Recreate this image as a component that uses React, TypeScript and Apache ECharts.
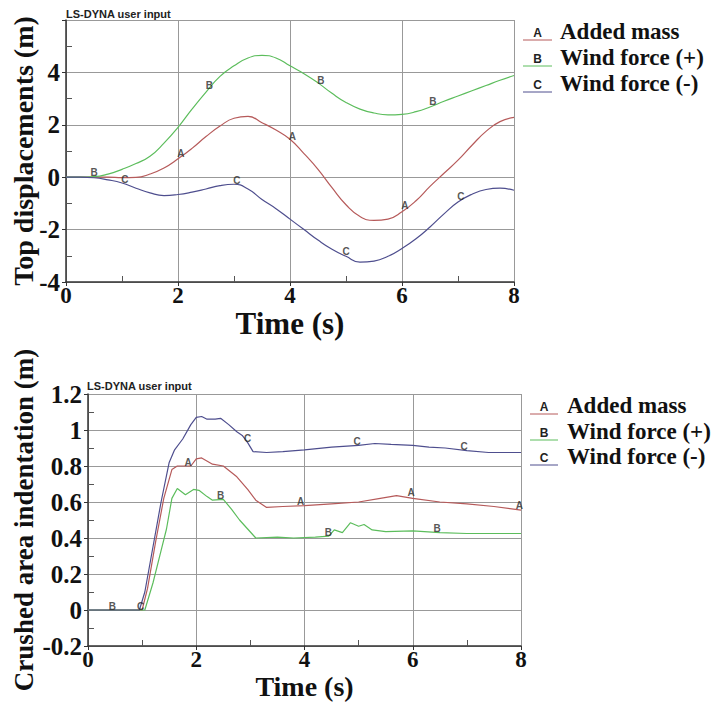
import React, { useEffect, useRef } from "react";
import * as echarts from "echarts";

// ---------- data ----------
const seriesNames = ["Added mass", "Wind force (+)", "Wind force (-)"];
const seriesLetters = ["A", "B", "C"];
const seriesColors = ["#b65a5a", "#5cbd5c", "#4e4e8e"];

const topTime = [0, 0.25, 0.5, 0.75, 1, 1.25, 1.5, 1.75, 2, 2.25, 2.5, 2.75, 3, 3.25, 3.5, 3.75, 4, 4.25, 4.5, 4.75, 5, 5.25, 5.5, 5.75, 6, 6.25, 6.5, 6.75, 7, 7.25, 7.5, 7.75, 8];
const topAddedMass = [0, 0, 0, 0, -0.02, -0.01, 0.12, 0.35, 0.7, 1.1, 1.55, 1.95, 2.25, 2.32, 2.08, 1.8, 1.45, 0.9, 0.3, -0.4, -1.05, -1.5, -1.65, -1.6, -1.32, -0.9, -0.35, 0.15, 0.65, 1.22, 1.75, 2.12, 2.28];
const topWindPlus = [0, 0, 0.02, 0.12, 0.3, 0.52, 0.8, 1.3, 1.9, 2.6, 3.25, 3.85, 4.25, 4.55, 4.65, 4.55, 4.25, 3.95, 3.6, 3.2, 2.85, 2.6, 2.45, 2.38, 2.4, 2.5, 2.68, 2.9, 3.1, 3.3, 3.5, 3.7, 3.88];
const topWindMinus = [0, 0, -0.02, -0.1, -0.22, -0.42, -0.6, -0.7, -0.66, -0.57, -0.45, -0.32, -0.27, -0.45, -0.85, -1.2, -1.6, -2.0, -2.4, -2.75, -3.02, -3.24, -3.2, -3.02, -2.72, -2.35, -1.9, -1.4, -0.95, -0.65, -0.47, -0.42, -0.5];

const topMarksA = [[2.05, 0.75], [4.04, 1.4], [6.05, -1.25]];
const topMarksB = [[0.5, 0.02], [2.56, 3.35], [4.55, 3.55], [6.55, 2.72]];
const topMarksC = [[1.05, -0.24], [3.05, -0.27], [5.0, -3.0], [7.05, -0.9]];

const crushedAddedMass = [[0, 0], [1.0, 0], [1.1, 0.12], [1.25, 0.38], [1.4, 0.62], [1.55, 0.78], [1.65, 0.8], [1.9, 0.8], [2.0, 0.84], [2.1, 0.845], [2.3, 0.81], [2.5, 0.8], [2.75, 0.74], [2.95, 0.67], [3.1, 0.61], [3.3, 0.57], [3.6, 0.575], [4.0, 0.58], [4.5, 0.59], [5.0, 0.6], [5.4, 0.62], [5.7, 0.635], [6.0, 0.62], [6.5, 0.6], [7.0, 0.59], [7.5, 0.575], [8.0, 0.555]];
const crushedWindPlus = [[0, 0], [1.05, 0], [1.2, 0.15], [1.35, 0.33], [1.45, 0.45], [1.55, 0.62], [1.65, 0.675], [1.8, 0.64], [1.95, 0.67], [2.05, 0.665], [2.2, 0.63], [2.3, 0.61], [2.5, 0.615], [2.65, 0.56], [2.8, 0.5], [2.95, 0.45], [3.1, 0.4], [3.5, 0.405], [3.8, 0.4], [4.2, 0.405], [4.45, 0.41], [4.55, 0.445], [4.7, 0.43], [4.85, 0.485], [5.0, 0.465], [5.1, 0.475], [5.25, 0.445], [5.5, 0.435], [6.0, 0.44], [6.5, 0.43], [7.0, 0.425], [7.5, 0.425], [8.0, 0.425]];
const crushedWindMinus = [[0, 0], [0.95, 0], [1.05, 0.1], [1.2, 0.35], [1.35, 0.6], [1.5, 0.82], [1.6, 0.89], [1.75, 0.95], [1.9, 1.03], [2.0, 1.07], [2.1, 1.075], [2.2, 1.06], [2.35, 1.06], [2.45, 1.065], [2.6, 1.03], [2.75, 0.99], [2.85, 0.97], [2.95, 0.93], [3.05, 0.88], [3.3, 0.875], [3.6, 0.88], [4.0, 0.89], [4.5, 0.905], [5.0, 0.915], [5.3, 0.925], [5.6, 0.92], [6.0, 0.915], [6.3, 0.905], [6.6, 0.9], [7.0, 0.885], [7.4, 0.875], [8.0, 0.875]];

const crushedMarksA = [[1.85, 0.8], [3.93, 0.58], [5.97, 0.63], [7.97, 0.56]];
const crushedMarksB = [[0.45, 0], [2.45, 0.615], [4.44, 0.41], [6.45, 0.43]];
const crushedMarksC = [[0.97, 0], [2.95, 0.93], [4.97, 0.915], [6.95, 0.885]];

const timeTicks = { min: 0, max: 8, interval: 2 };
const topTicks = { min: -4, max: 6, interval: 2 };
const crushedTicks = { min: -0.2, max: 1.2, interval: 0.2 };

// ---------- styling ----------
const SERIF = "'Liberation Serif', 'Times New Roman', serif";
const SANS = "'Liberation Sans', Arial, sans-serif";

function xAxisCfg(gridIndex: number, nameGap: number, nameSize: number) {
  return {
    type: "value",
    gridIndex,
    ...timeTicks,
    name: "Time (s)",
    nameLocation: "middle",
    nameGap,
    nameMoveOverlap: false,
    nameTextStyle: { fontFamily: SERIF, fontWeight: "bold", fontSize: nameSize, color: "#111" },
    axisLine: { show: true, onZero: false, lineStyle: { color: "#333", width: 1.5 } },
    axisTick: { show: true, length: 4, lineStyle: { color: "#333" } },
    minorTick: { show: true, splitNumber: 2, length: -6, lineStyle: { color: "#555" } },
    splitLine: { show: true, lineStyle: { color: "#999", width: 1 } },
    axisLabel: { fontFamily: SERIF, fontWeight: "bold", fontSize: 23, color: "#111", margin: 2 },
  };
}

function yAxisCfg(gridIndex: number, ticks: any, name: string, nameGap: number, nameSize: number, showMax: boolean) {
  return {
    type: "value",
    gridIndex,
    ...ticks,
    name,
    nameLocation: "middle",
    nameRotate: 90,
    nameGap,
    nameMoveOverlap: false,
    nameTextStyle: { fontFamily: SERIF, fontWeight: "bold", fontSize: nameSize, color: "#111" },
    axisLine: { show: true, onZero: false, lineStyle: { color: "#333", width: 1.5 } },
    axisTick: { show: true, length: 4, lineStyle: { color: "#333" } },
    minorTick: { show: true, splitNumber: 2, length: -6, lineStyle: { color: "#555" } },
    splitLine: { show: true, lineStyle: { color: "#999", width: 1 } },
    axisLabel: { fontFamily: SERIF, fontWeight: "bold", fontSize: 25, color: "#111", margin: 6, showMaxLabel: showMax },
  };
}

function lineSeries(idx: number, axisIdx: number, data: number[][], smooth: boolean) {
  return {
    type: "line",
    name: seriesNames[idx],
    xAxisIndex: axisIdx,
    yAxisIndex: axisIdx,
    data,
    smooth,
    showSymbol: false,
    symbol: "none",
    lineStyle: { color: seriesColors[idx], width: 1.2 },
    itemStyle: { color: seriesColors[idx] },
    z: 3,
  };
}

function letterSeries(idx: number, axisIdx: number, data: number[][]) {
  return {
    type: "scatter",
    xAxisIndex: axisIdx,
    yAxisIndex: axisIdx,
    data,
    symbol: "circle",
    symbolSize: 2,
    itemStyle: { color: "rgba(0,0,0,0)" },
    label: {
      show: true,
      position: "inside",
      offset: [0, -4],
      formatter: seriesLetters[idx],
      fontFamily: SANS,
      fontWeight: "bold",
      fontSize: 10,
      color: "#2a2a2a",
    },
    z: 4,
  };
}

function legendGraphics(lineX1: number, lineX2: number, textX: number, rowsY: number[]) {
  const els: any[] = [];
  rowsY.forEach((y, i) => {
    els.push({
      type: "line",
      shape: { x1: lineX1, y1: y + 9, x2: lineX2, y2: y + 9 },
      style: { stroke: seriesColors[i], lineWidth: 1 },
    });
    els.push({
      type: "text",
      x: (lineX1 + lineX2) / 2,
      y: y + 8,
      style: {
        text: seriesLetters[i],
        fontFamily: SANS,
        fontWeight: "bold",
        fontSize: 12,
        fill: "#222",
        textAlign: "center",
        align: "center",
        textVerticalAlign: "bottom",
        verticalAlign: "bottom",
      },
    });
    els.push({
      type: "text",
      x: textX,
      y,
      style: {
        text: seriesNames[i],
        fontFamily: SERIF,
        fontWeight: "bold",
        fontSize: 23,
        fill: "#111",
        textAlign: "left",
        align: "left",
        textVerticalAlign: "middle",
        verticalAlign: "middle",
      },
    });
  });
  return els;
}

function headerText(x: number, y: number) {
  return {
    type: "text",
    x,
    y,
    style: {
      text: "LS-DYNA user input",
      fontFamily: SANS,
      fontWeight: "bold",
      fontSize: 11,
      fill: "#222",
      textAlign: "left",
      align: "left",
      textVerticalAlign: "middle",
      verticalAlign: "middle",
    },
  };
}

export default function App() {
  const ref = useRef<HTMLDivElement>(null);
  useEffect(() => {
    document.body.style.margin = "0";
    const chart = echarts.init(ref.current!, null, { renderer: "svg" });
    const topData = [topAddedMass, topWindPlus, topWindMinus].map((vals) => vals.map((v, i) => [topTime[i], v]));
    const option: any = {
      animation: false,
      backgroundColor: "#ffffff",
      grid: [
        { left: 66, top: 20, width: 448, height: 262, outerBoundsMode: "none", containLabel: false },
        { left: 88, top: 394, width: 433, height: 252, outerBoundsMode: "none", containLabel: false },
      ],
      xAxis: [xAxisCfg(0, 26, 31), xAxisCfg(1, 26, 28)],
      yAxis: [
        yAxisCfg(0, topTicks, "Top displacements (m)", 29, 28, false),
        yAxisCfg(1, crushedTicks, "Crushed area indentation (m)", 51, 27, true),
      ],
      series: [
        lineSeries(0, 0, topData[0], true),
        lineSeries(1, 0, topData[1], true),
        lineSeries(2, 0, topData[2], true),
        letterSeries(0, 0, topMarksA),
        letterSeries(1, 0, topMarksB),
        letterSeries(2, 0, topMarksC),
        lineSeries(0, 1, crushedAddedMass, false),
        lineSeries(1, 1, crushedWindPlus, false),
        lineSeries(2, 1, crushedWindMinus, false),
        letterSeries(0, 1, crushedMarksA),
        letterSeries(1, 1, crushedMarksB),
        letterSeries(2, 1, crushedMarksC),
      ],
      graphic: [
        headerText(66, 14),
        headerText(87, 386),
        ...legendGraphics(523, 552, 560, [31, 57, 83]),
        ...legendGraphics(530, 558, 567, [405, 431, 456]),
      ],
    };
    chart.setOption(option);
    return () => chart.dispose();
  }, []);
  return <div ref={ref} style={{ width: 713, height: 704 }} />;
}
